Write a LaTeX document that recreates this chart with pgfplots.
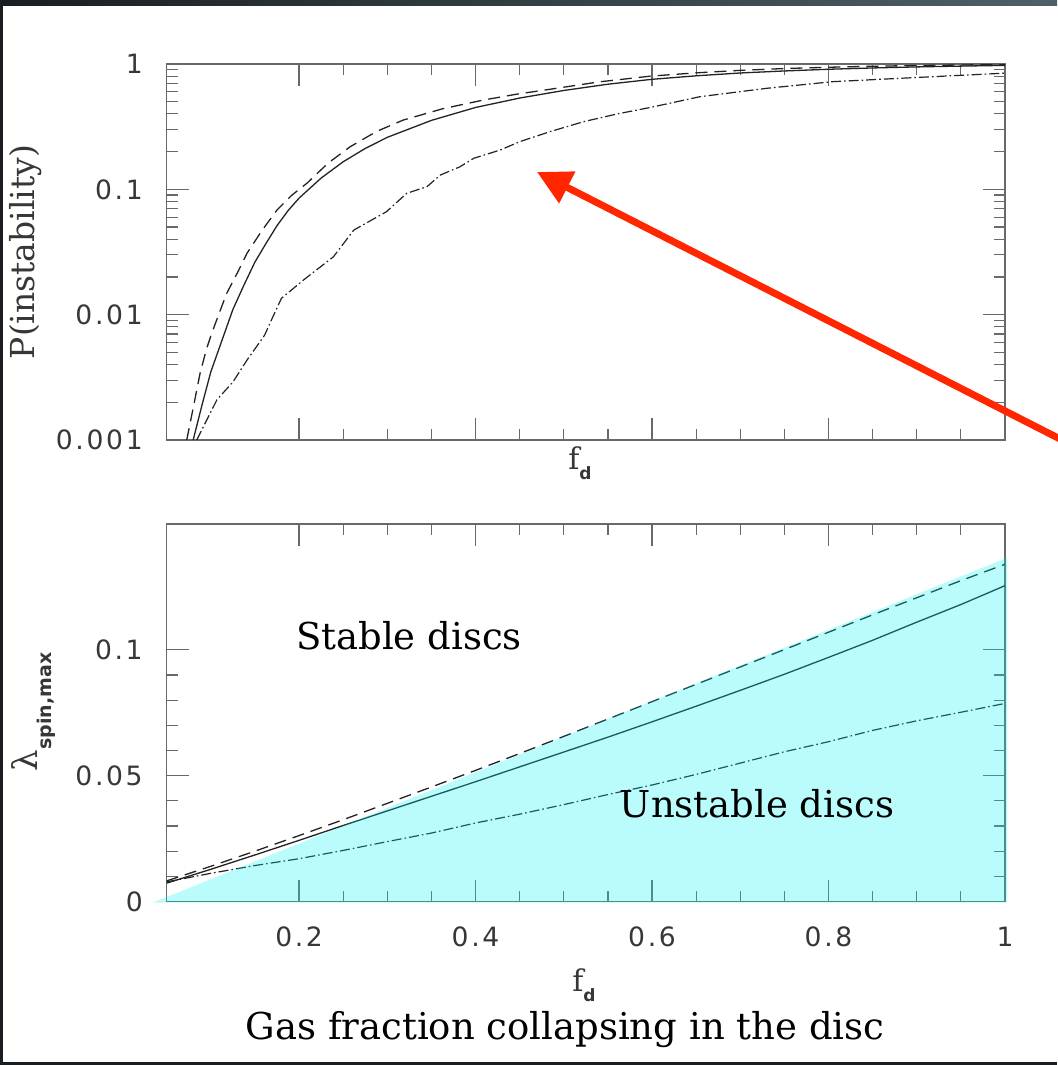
\documentclass[border=0pt]{standalone}
\usepackage{fontspec}
\setmainfont{DejaVu Serif}
\newfontfamily\tickfont[LetterSpace=10]{DejaVu Sans}
\newfontfamily\subfont{DejaVu Sans}
\usepackage{pgfplots}
\pgfplotsset{compat=1.18}
\usetikzlibrary{arrows.meta}

\definecolor{framegray}{RGB}{105,105,105}
\definecolor{curve}{RGB}{35,35,35}
\definecolor{ticktext}{RGB}{55,55,55}
\definecolor{arrowred}{RGB}{255,38,0}
\definecolor{overlay}{RGB}{0,245,245}
\definecolor{slidedark}{RGB}{24,30,34}
\definecolor{slideblue}{RGB}{78,96,102}

\pgfplotsset{
  panel/.style={
    scale only axis,
    width=419.15pt,
    xmin=0.05, xmax=1,
    axis line style={framegray, line width=0.7pt},
    every tick/.style={framegray, line width=0.6pt},
    major tick length=11pt,
    minor tick length=5.5pt,
    tick align=inside,
    xtick={0.2,0.4,0.6,0.8,1},
    minor x tick num=3,
    ticklabel style={font=\tickfont\fontsize{13.3}{15}\selectfont, text=ticktext},
    yticklabel style={anchor=east, inner sep=0pt, xshift=-11.8pt},
    /pgf/number format/assume math mode=true,
  },
  solidc/.style={curve, line width=0.65pt},
  dashc/.style={curve, line width=0.65pt, dash pattern=on 6pt off 3.5pt},
  dotdashc/.style={curve, line width=0.6pt, dash pattern=on 5pt off 1.5pt on 0.8pt off 1.5pt},
}

\begin{document}
\begin{tikzpicture}
\useasboundingbox (0,0) rectangle (528.5pt,-532.5pt);
\fill[white] (0,0) rectangle (528.5pt,-532.5pt);

% ---------- top panel ----------
\begin{axis}[panel,
  at={(83.35pt,-32pt)}, anchor=north west,
  height=188pt,
  ymode=log, ymin=0.001, ymax=1,
  ytick={0.001,0.01,0.1,1},
  yticklabels={0.001,0.01,0.1,1},
  yminorticks=true,
  xticklabels={},
]
\addplot[dashc] coordinates {
(0.0727,0.0010) (0.080,0.0018) (0.0878,0.0034) (0.095,0.0053) (0.101,0.0071)
(0.110,0.0105) (0.118,0.0148) (0.130,0.0215) (0.141,0.0309) (0.158,0.0470)
(0.175,0.0684) (0.192,0.090) (0.209,0.112) (0.233,0.162) (0.258,0.219)
(0.288,0.290) (0.318,0.357) (0.363,0.440) (0.409,0.516) (0.447,0.575)
(0.484,0.628) (0.540,0.720) (0.598,0.800) (0.650,0.850) (0.700,0.890)
(0.750,0.920) (0.800,0.942) (0.850,0.960) (0.900,0.972) (0.950,0.982) (1.000,0.990)};
\addplot[solidc] coordinates {
(0.080,0.0010) (0.090,0.0019) (0.100,0.0035) (0.1125,0.0062) (0.125,0.0110)
(0.1375,0.0172) (0.150,0.0263) (0.1625,0.0370) (0.175,0.0513) (0.1875,0.0676)
(0.200,0.0851) (0.225,0.123) (0.250,0.166) (0.275,0.212) (0.300,0.260)
(0.350,0.355) (0.400,0.450) (0.450,0.535) (0.500,0.615) (0.550,0.690)
(0.600,0.755) (0.650,0.805) (0.700,0.848) (0.750,0.880) (0.800,0.908)
(0.850,0.930) (0.900,0.948) (0.950,0.962) (1.000,0.975)};
\addplot[dotdashc] coordinates {
(0.084,0.0010) (0.107,0.0021) (0.125,0.0029) (0.141,0.00434) (0.161,0.00687)
(0.170,0.0095) (0.180,0.0135) (0.205,0.0189) (0.239,0.029) (0.262,0.0473)
(0.299,0.0663) (0.322,0.093) (0.345,0.105) (0.360,0.130) (0.382,0.151)
(0.398,0.177) (0.428,0.206) (0.450,0.240) (0.484,0.288) (0.522,0.346)
(0.560,0.399) (0.598,0.450) (0.654,0.548) (0.730,0.640) (0.805,0.723)
(0.881,0.769) (0.957,0.817) (1.000,0.845)};
\end{axis}

% ---------- bottom panel ----------
\begin{axis}[panel,
  at={(83.35pt,-262pt)}, anchor=north west,
  height=188.75pt,
  ymin=0, ymax=0.15,
  ytick={0,0.05,0.1},
  yticklabels={0,0.05,0.1},
  minor y tick num=4,
  xticklabels={0.2,0.4,0.6,0.8,1},
  xticklabel style={anchor=center, inner sep=0pt, yshift=-17.75pt},
  clip=false,
]
\addplot[dashc] coordinates {
(0.05,0.0082) (0.1,0.0140) (0.15,0.0200) (0.2,0.0262) (0.25,0.0325) (0.3,0.0390)
(0.35,0.0455) (0.4,0.0521) (0.45,0.0588) (0.5,0.0656) (0.55,0.0725) (0.6,0.0794)
(0.65,0.0863) (0.7,0.0932) (0.75,0.1001) (0.8,0.1070) (0.85,0.1139) (0.9,0.1207)
(0.95,0.1275) (1.0,0.1340)};
\addplot[solidc] coordinates {
(0.05,0.0073) (0.1,0.0128) (0.15,0.0185) (0.2,0.0243) (0.25,0.0302) (0.3,0.0360)
(0.35,0.0418) (0.4,0.0476) (0.45,0.0535) (0.5,0.0594) (0.55,0.0653) (0.6,0.0714)
(0.65,0.0776) (0.7,0.0839) (0.75,0.0903) (0.8,0.0970) (0.85,0.1038) (0.9,0.1110)
(0.95,0.1180) (1.0,0.1255)};
\addplot[dotdashc] coordinates {
(0.05,0.0078) (0.1,0.0112) (0.15,0.0143) (0.2,0.0170) (0.25,0.0203) (0.3,0.0238)
(0.35,0.0272) (0.4,0.0312) (0.45,0.0347) (0.5,0.0385) (0.55,0.0425) (0.6,0.0463)
(0.65,0.0505) (0.7,0.0550) (0.75,0.0595) (0.8,0.0635) (0.85,0.0680) (0.9,0.0718)
(0.95,0.0752) (1.0,0.0787)};
\addplot[draw=none, fill=overlay, fill opacity=0.27] coordinates {
(0.0346,-0.0004) (1.0025,0.1366) (1.0025,-0.0004)} -- cycle;
\end{axis}

% ---------- labels ----------
\node[rotate=90, text=ticktext, font=\fontsize{16.5}{18}\selectfont] at (13pt,-126pt) {P(instability)};
\node[rotate=90, text=ticktext, inner sep=0pt] at (16.75pt,-356pt)
  {\fontsize{17}{18}\selectfont λ\raisebox{-0.4em}{\subfont\bfseries\fontsize{9.5}{10}\selectfont spin,max}};
\node[text=ticktext, inner sep=0pt] at (290pt,-231.5pt)
  {\fontsize{15}{16}\selectfont f\raisebox{-0.35em}{\subfont\bfseries\fontsize{8.5}{9}\selectfont d}};
\node[text=ticktext, inner sep=0pt] at (292pt,-492.5pt)
  {\fontsize{15}{16}\selectfont f\raisebox{-0.35em}{\subfont\bfseries\fontsize{8.5}{9}\selectfont d}};

\node[font=\fontsize{18.5}{20}\selectfont] at (204.5pt,-318pt) {Stable discs};
\node[font=\fontsize{18.5}{20}\selectfont] at (378.5pt,-402pt) {Unstable discs};
\node[font=\fontsize{18.5}{20}\selectfont] at (282.5pt,-515pt) {Gas fraction collapsing in the disc};

% ---------- arrow ----------
\draw[arrowred, line width=3.5pt, -{Triangle[length=17pt,width=17pt]}] (531pt,-220pt) -- (268.5pt,-86pt);

% ---------- slide edges ----------
\shade[left color=slidedark, right color=slideblue] (0,0) rectangle (528.5pt,-3pt);
\fill[slidedark] (0,0) rectangle (1.5pt,-532.5pt);
\fill[slidedark] (0,-531.2pt) rectangle (528.5pt,-532.5pt);
\end{tikzpicture}
\end{document}
